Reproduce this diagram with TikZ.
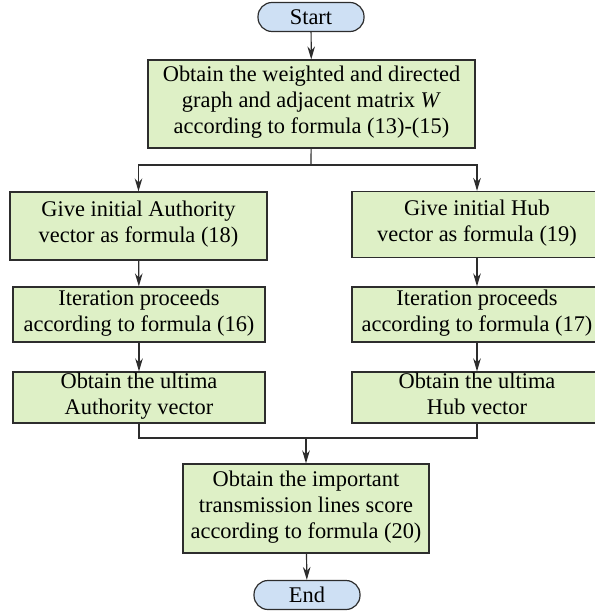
\documentclass[tikz,border=0pt]{standalone}
\usepackage{fontspec}
\setmainfont{Liberation Serif}
\usepackage{xcolor}
\usetikzlibrary{arrows.meta,positioning}
\definecolor{boxGreen}{RGB}{222,240,198}
\definecolor{termBlue}{RGB}{206,224,244}
\definecolor{lineGray}{RGB}{45,45,45}
\tikzset{
  stepbox/.style={draw=lineGray,line width=0.6pt,fill=boxGreen,inner sep=0pt,
                  font=\fontsize{11.2}{13}\selectfont,align=center,
                  execute at begin node=\strut,execute at end node=\strut},
  term/.style={draw=lineGray,line width=0.6pt,fill=termBlue,rounded corners=7pt,
               inner sep=0pt,minimum width=53pt,minimum height=14.5pt,
               font=\fontsize{11.2}{13}\selectfont},
  arr/.style={-{Stealth[length=6.5pt,width=3.8pt]},line width=0.6pt,lineGray},
  ln/.style={line width=0.6pt,lineGray},
}
\begin{document}
\begin{tikzpicture}[x=0.5pt,y=-0.5pt]
  \useasboundingbox (0,0) rectangle (594,614);
  % terminals
  \node[term] (start) at (311,17) {Start};
  \node[term] (end) at (307,595) {End};
  % main steps
  \node[stepbox,minimum width=163.5pt,minimum height=44pt] (graph) at (311.5,104)
    {Obtain the weighted and directed\\graph and adjacent matrix \textit{W}\\according to formula (13)-(15)};
  \node[stepbox,minimum width=128.5pt,minimum height=34pt] (auth1) at (138.5,226)
    {Give initial Authority\\vector as formula (18)};
  \node[stepbox,minimum width=126pt,minimum height=27.5pt] (auth2) at (139,314.5)
    {Iteration proceeds\\according to formula (16)};
  \node[stepbox,minimum width=126pt,minimum height=25.5pt] (auth3) at (139,397.5)
    {Obtain the ultima\\Authority vector};
  \node[stepbox,minimum width=125pt,minimum height=33pt] (hub1) at (477,224.5)
    {Give initial Hub\\vector as formula (19)};
  \node[stepbox,minimum width=125pt,minimum height=27.5pt] (hub2) at (477,314.5)
    {Iteration proceeds\\according to formula (17)};
  \node[stepbox,minimum width=125pt,minimum height=25.5pt] (hub3) at (477,397.5)
    {Obtain the ultima\\Hub vector};
  \node[stepbox,minimum width=123pt,minimum height=44.5pt] (score) at (306,508.5)
    {Obtain the important\\transmission lines score\\according to formula (20)};
  % branch points
  \coordinate (split) at (311,165);
  \coordinate (merge) at (306,438);
  % connectors
  \draw[arr] (start) -- (graph);
  \draw[ln] (graph) -- (split);
  \draw[arr] (split) -| (auth1);
  \draw[arr] (split) -| (hub1);
  \draw[arr] (auth1) -- (auth2);
  \draw[arr] (auth2) -- (auth3);
  \draw[arr] (hub1) -- (hub2);
  \draw[arr] (hub2) -- (hub3);
  \draw[ln] (auth3) |- (merge);
  \draw[ln] (hub3) |- (merge);
  \draw[arr] (merge) -- (score);
  \draw[arr] (score) -- (end);
\end{tikzpicture}
\end{document}
